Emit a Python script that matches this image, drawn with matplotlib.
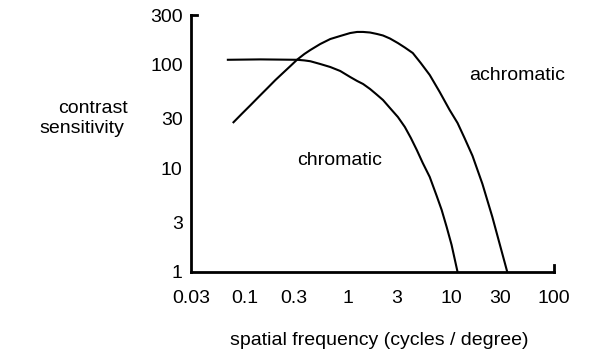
import matplotlib
matplotlib.use("Agg")
import matplotlib.pyplot as plt

plt.rcParams['font.family'] = ['Liberation Sans', 'DejaVu Sans']

# Data (log-log axes)
achromatic_freq = [0.0763, 0.0932, 0.1138, 0.139, 0.166, 0.198, 0.237, 0.277, 0.323,
                   0.378, 0.432, 0.539, 0.674, 0.842, 1.051, 1.228, 1.403, 1.639,
                   1.915, 2.189, 2.557, 3.054, 3.568, 4.262, 5.09, 6.22, 7.77,
                   9.70, 11.59, 13.53, 16.17, 20.2, 25.2, 29.5, 35.2]
achromatic_sens = [27.3, 33.4, 40.7, 49.8, 59.4, 70.9, 83.8, 96.8, 111.8,
                   126.3, 138, 157.6, 176, 188.3, 201, 206, 206, 203.4,
                   196.9, 190.4, 178.1, 161, 145.8, 129, 103.4, 79.3, 54.4,
                   36.5, 27.3, 19.6, 13.2, 7.06, 3.40, 1.91, 1.0]

chromatic_freq = [0.0668, 0.142, 0.323, 0.378, 0.432, 0.539, 0.674, 0.842, 1.051,
                  1.228, 1.403, 1.639, 1.873, 2.189, 2.557, 3.054, 3.568, 4.08,
                  4.66, 5.32, 6.22, 7.27, 8.12, 9.08, 10.14, 11.59]
chromatic_sens = [111, 112, 111, 109.5, 107.5, 101.1, 94.6, 86.6, 75.8,
                  69.4, 64.9, 58.1, 52.0, 45.5, 38.1, 31.2, 25.0, 19.6,
                  15.0, 11.26, 8.25, 5.41, 3.97, 2.72, 1.825, 1.0]

x_ticks = [0.03, 0.1, 0.3, 1, 3, 10, 30, 100]
x_tick_labels = ['0.03', '0.1', '0.3', '1', '3', '10', '30', '100']
y_ticks = [1, 3, 10, 30, 100, 300]
y_tick_labels = ['1', '3', '10', '30', '100', '300']

W, H = 591, 356
fig = plt.figure(figsize=(W / 100, H / 100), dpi=100)
ax = fig.add_axes([191 / W, 1 - 272 / H, (554 - 191) / W, (272 - 15) / H])

ax.plot(achromatic_freq, achromatic_sens, color='black', lw=1.5,
        solid_joinstyle='round', solid_capstyle='butt')
ax.plot(chromatic_freq, chromatic_sens, color='black', lw=1.5,
        solid_joinstyle='round', solid_capstyle='butt')

ax.set_xscale('log')
ax.set_yscale('log')
ax.set_xlim(0.03, 100)
ax.set_ylim(1, 300)
ax.set_xticks(x_ticks)
ax.set_xticklabels(x_tick_labels)
ax.set_yticks(y_ticks)
ax.set_yticklabels(y_tick_labels)
ax.minorticks_off()
ax.tick_params(axis='both', length=0, labelsize=14)
ax.tick_params(axis='x', pad=13)
ax.tick_params(axis='y', pad=6)

for s in ['top', 'right']:
    ax.spines[s].set_visible(False)
for s in ['left', 'bottom']:
    ax.spines[s].set_linewidth(2)

# end ticks of the axes
ax.plot([0, 0.017], [1, 1], transform=ax.transAxes, clip_on=False, color='black', lw=2)
ax.plot([1, 1], [0, 0.027], transform=ax.transAxes, clip_on=False, color='black', lw=2)

ax.text(15.1, 71.0, 'achromatic', fontsize=14, ha='left', va='baseline')
ax.text(0.323, 10.8, 'chromatic', fontsize=14, ha='left', va='baseline')

fig.text(128 / W, 1 - 113 / H, 'contrast', fontsize=14, ha='right', va='baseline')
fig.text(124 / W, 1 - 133 / H, 'sensitivity', fontsize=14, ha='right', va='baseline')
fig.text(379 / W, 1 - 345 / H, 'spatial frequency (cycles / degree)', fontsize=14,
         ha='center', va='baseline')

fig.savefig('out.png', dpi=100)
